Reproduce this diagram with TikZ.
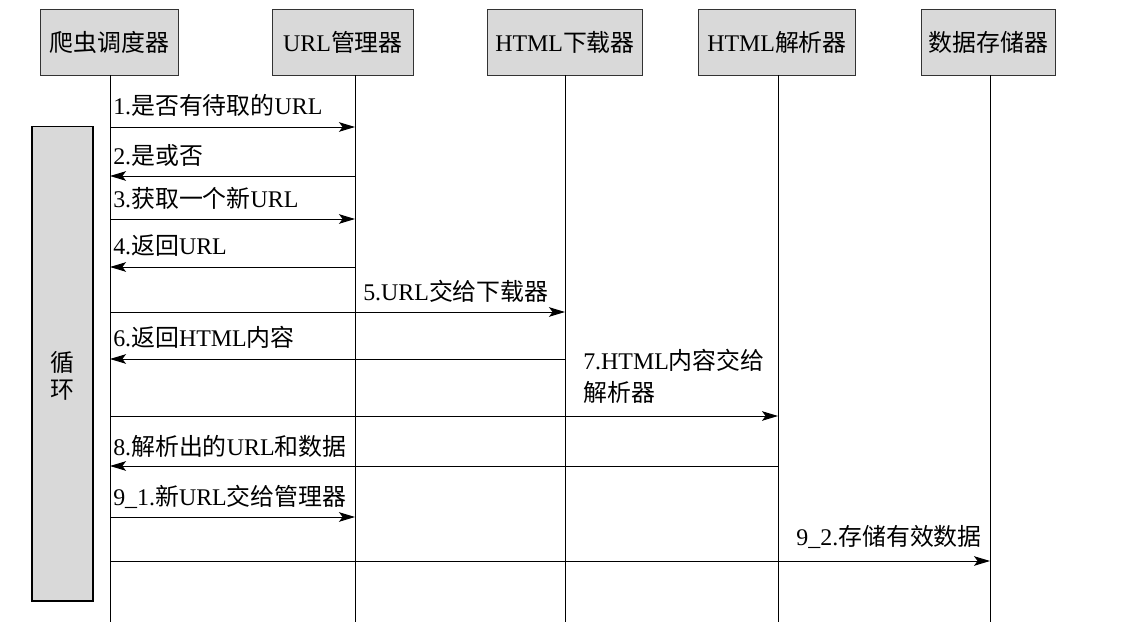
\documentclass[tikz,border=0pt]{standalone}
\usepackage{fontspec}
\setmainfont{Liberation Serif}
\newfontfamily\zh{Noto Sans CJK SC}
\usetikzlibrary{arrows.meta,positioning}
\definecolor{boxgray}{HTML}{D9D9D9}
\newcommand{\msgfont}{\fontsize{17pt}{22.8pt}\selectfont}

\begin{document}
\begin{tikzpicture}[x=0.025cm, y=-0.025cm,
    actor/.style={rectangle, draw=black!80, fill=boxgray, 
                  minimum height=1.625cm, inner sep=0pt, 
                  font=\msgfont, line width=0.7pt},
    loopbox/.style={rectangle, draw=black, fill=boxgray, 
                    minimum width=1.525cm, minimum height=11.85cm, 
                    line width=0.8pt},
    life/.style={line width=0.7pt},
    msg/.style={-{Stealth[length=0.4cm, width=0.24cm, inset=0.09cm]}, line width=0.7pt},
    lbl/.style={anchor=base west, inner sep=0pt, font=\msgfont}
]
    \useasboundingbox (0,0) rectangle (1121,630);

    % Participants
    \node[actor, minimum width=3.425cm] (sched) at (109.5,42.5) {{\zh 爬虫调度器}};
    \node[actor, minimum width=3.5cm] (url) at (343,42.5) {URL{\zh 管理器}};
    \node[actor, minimum width=3.85cm] (down) at (565,42.5) {HTML{\zh 下载器}};
    \node[actor, minimum width=3.9cm] (parse) at (777,42.5) {HTML{\zh 解析器}};
    \node[actor, minimum width=3.325cm] (store) at (988.5,42.5) {{\zh 数据存储器}};

    % Lifelines
    \coordinate (schedB) at (110,622);
    \coordinate (urlB) at (355,622);
    \coordinate (downB) at (565,622);
    \coordinate (parseB) at (778,622);
    \coordinate (storeB) at (990,622);
    \draw[life] (sched.south -| schedB) -- (schedB);
    \draw[life] (url.south -| urlB) -- (urlB);
    \draw[life] (down.south -| downB) -- (downB);
    \draw[life] (parse.south -| parseB) -- (parseB);
    \draw[life] (store.south -| storeB) -- (storeB);

    % Loop bar
    \node[loopbox] (loop) at (62.5,364) {};
    \node[font=\fontsize{17pt}{19.2pt}\selectfont, align=center, inner sep=0pt] (loopTxt) at (62.5,376) {{\zh 循}\\{\zh 环}};

    % Messages
    \draw[msg] (schedB |- 0,127) -- (urlB |- 0,127);
    \node[lbl] (m1) at ([xshift=0.075cm]schedB |- 0,115) {1.{\zh 是否有待取的}URL};

    \draw[msg] (urlB |- 0,176) -- (schedB |- 0,176);
    \node[lbl] (m2) at ([xshift=0.075cm]schedB |- 0,165) {2.{\zh 是或否}};

    \draw[msg] (schedB |- 0,219) -- (urlB |- 0,219);
    \node[lbl] (m3) at ([xshift=0.075cm]schedB |- 0,208) {3.{\zh 获取一个新}URL};

    \draw[msg] (urlB |- 0,267) -- (schedB |- 0,267);
    \node[lbl] (m4) at ([xshift=0.075cm]schedB |- 0,255) {4.{\zh 返回}URL};

    \draw[msg] (schedB |- 0,312) -- (downB |- 0,312);
    \node[lbl] (m5) at ([xshift=0.2cm]urlB |- 0,301) {5.URL{\zh 交给下载器}};

    \draw[msg] (downB |- 0,359) -- (schedB |- 0,359);
    \node[lbl] (m6) at ([xshift=0.075cm]schedB |- 0,347) {6.{\zh 返回}HTML{\zh 内容}};

    \draw[msg] (schedB |- 0,416) -- (parseB |- 0,416);
    \node[lbl, align=left] (m7) at ([xshift=0.45cm]downB |- 0,402) {7.HTML{\zh 内容交给}\\{\zh 解析器}};

    \draw[msg] (parseB |- 0,466) -- (schedB |- 0,466);
    \node[lbl] (m8) at ([xshift=0.075cm]schedB |- 0,455) {8.{\zh 解析出的}URL{\zh 和数据}};

    \draw[msg] (schedB |- 0,517) -- (urlB |- 0,517);
    \node[lbl] (m91) at ([xshift=0.075cm]schedB |- 0,505) {9\_1.{\zh 新}URL{\zh 交给管理器}};

    \draw[msg] (schedB |- 0,561) -- (storeB |- 0,561);
    \node[lbl, anchor=base east] (m92) at ([xshift=-0.2cm]storeB |- 0,545) {9\_2.{\zh 存储有效数据}};
\end{tikzpicture}
\end{document}
